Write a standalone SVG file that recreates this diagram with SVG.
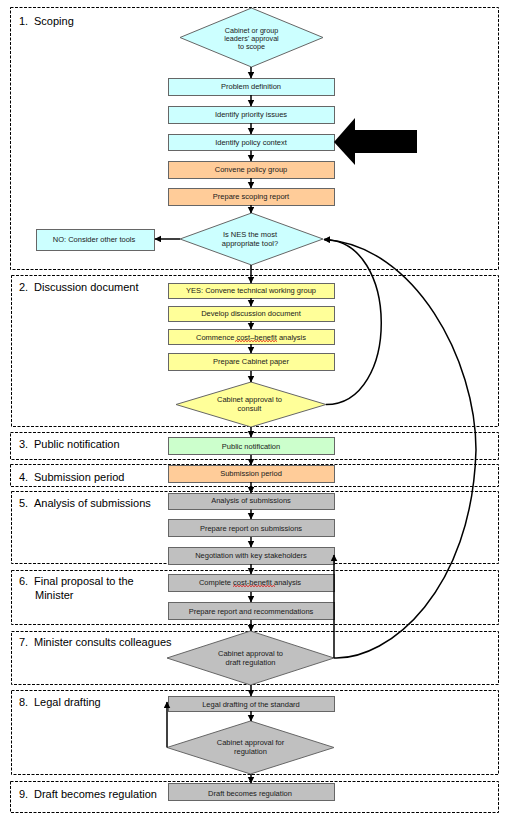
<svg xmlns="http://www.w3.org/2000/svg" width="510" height="816" viewBox="0 0 510 816">
<defs>
<style>
.sec{fill:none;stroke:#000;stroke-width:1;stroke-dasharray:3 1.5}
.lbl{font-family:"Liberation Sans",Arial,sans-serif;font-size:11px;fill:#000}
.t{font-family:"Liberation Sans",Arial,sans-serif;font-size:7.5px;fill:#1a1a1a;text-anchor:middle}
.nd{stroke:#666;stroke-width:1}
.cy{fill:#CCFFFF}
.or{fill:#FFCC99}
.ye{fill:#FFFF99}
.gr{fill:#CCFFCC}
.gy{fill:#C0C0C0}
.c{fill:none;stroke:#000;stroke-width:1.5}
.sq{fill:none;stroke:#e00000;stroke-width:0.8}
</style>
<marker id="ah" markerUnits="userSpaceOnUse" markerWidth="7" markerHeight="7" refX="6" refY="3.25" orient="auto">
<path d="M0,0 L6.5,3.25 L0,6.5 z" fill="#000"/>
</marker>
</defs>
<rect width="510" height="816" fill="#fff"/>

<g id="sections">
<g id="sec1"><rect class="sec" x="10.5" y="7.5" width="488" height="262"/><text class="lbl" x="19" y="24.5">1.</text><text class="lbl" x="34" y="24.5">Scoping</text></g>
<g id="sec2"><rect class="sec" x="11.5" y="275.5" width="487" height="151"/><text class="lbl" x="19" y="291">2.</text><text class="lbl" x="34" y="291">Discussion document</text></g>
<g id="sec3"><rect class="sec" x="10.5" y="432.5" width="488" height="27"/><text class="lbl" x="19" y="448">3.</text><text class="lbl" x="34" y="448">Public notification</text></g>
<g id="sec4"><rect class="sec" x="10.5" y="464.5" width="488" height="22"/><text class="lbl" x="19" y="480.5">4.</text><text class="lbl" x="34" y="480.5">Submission period</text></g>
<g id="sec5"><rect class="sec" x="11.5" y="491.5" width="487" height="72"/><text class="lbl" x="19" y="507">5.</text><text class="lbl" x="34" y="507">Analysis of submissions</text></g>
<g id="sec6"><rect class="sec" x="11.5" y="570.5" width="487" height="54"/><text class="lbl" x="19" y="585">6.</text><text class="lbl" x="34" y="585">Final proposal to the</text><text class="lbl" x="35" y="599">Minister</text></g>
<g id="sec7"><rect class="sec" x="11.5" y="631.5" width="487" height="53"/><text class="lbl" x="19" y="646">7.</text><text class="lbl" x="34" y="646">Minister consults colleagues</text></g>
<g id="sec8"><rect class="sec" x="11.5" y="690.5" width="487" height="84"/><text class="lbl" x="19" y="705.5">8.</text><text class="lbl" x="34" y="705.5">Legal drafting</text></g>
<g id="sec9"><rect class="sec" x="10.5" y="781.5" width="488" height="31"/><text class="lbl" x="19" y="798">9.</text><text class="lbl" x="34" y="798">Draft becomes regulation</text></g>
</g>

<g id="nodes">
<g id="n-approval-scope"><polygon class="nd cy" points="251.5,8 323,37.5 251.5,67 180,37.5"/><text class="t" x="251.5" y="32.6" style="font-size:7.2px">Cabinet or group</text><text class="t" x="251.5" y="40.6" style="font-size:7.2px">leaders’ approval</text><text class="t" x="251.5" y="49.3" style="font-size:7.2px">to scope</text></g>
<g id="n-problem"><rect class="nd cy" x="168.5" y="78.5" width="166" height="17"/><text class="t" x="251" y="89">Problem definition</text></g>
<g id="n-priority"><rect class="nd cy" x="168.5" y="106.5" width="166" height="17"/><text class="t" x="251" y="117">Identify priority issues</text></g>
<g id="n-context"><rect class="nd cy" x="168.5" y="134.5" width="166" height="16"/><text class="t" x="251" y="144.8">Identify policy context</text></g>
<g id="n-convene"><rect class="nd or" x="168.5" y="161.5" width="166" height="17"/><text class="t" x="251" y="172">Convene policy group</text></g>
<g id="n-scoping-report"><rect class="nd or" x="168.5" y="188.5" width="166" height="17"/><text class="t" x="251" y="199">Prepare scoping report</text></g>
<g id="n-nes"><polygon class="nd cy" points="251.5,213 323,239 251.5,265 180,239"/><text class="t" x="250" y="237">Is NES the most</text><text class="t" x="250" y="246">appropriate tool?</text></g>
<g id="n-no"><rect class="nd cy" x="36.5" y="229.5" width="118" height="21"/><text class="t" x="94" y="242">NO: Consider other tools</text></g>
<g id="n-yes"><rect class="nd ye" x="168.5" y="283.5" width="166" height="15"/><text class="t" x="251" y="293.3">YES: Convene technical working group</text></g>
<g id="n-develop"><rect class="nd ye" x="168.5" y="306.5" width="166" height="15"/><text class="t" x="251" y="316.2">Develop discussion document</text></g>
<g id="n-commence"><rect class="nd ye" x="168.5" y="329.5" width="166" height="15"/><text class="t" x="251" y="340">Commence cost–benefit analysis</text><path class="sq" d="M235,341.6 l1.5,-1.1 l1.5,1.1 l1.5,-1.1 l1.5,1.1 l1.5,-1.1 l1.5,1.1 l1.5,-1.1 l1.5,1.1 l1.5,-1.1 l1.5,1.1 l1.5,-1.1 l1.5,1.1 l1.5,-1.1 l1.5,1.1 l1.5,-1.1 l1.5,1.1 l1.5,-1.1 l1.5,1.1 l1.5,-1.1 l1.5,1.1 l1.5,-1.1 l1.5,1.1 l1.5,-1.1 l1.5,1.1 l1.5,-1.1 l1.5,1.1 l1.5,-1.1 l1.5,1.1"/></g>
<g id="n-cabinet-paper"><rect class="nd ye" x="168.5" y="353.5" width="166" height="17"/><text class="t" x="251" y="363.8">Prepare Cabinet paper</text></g>
<g id="n-consult"><polygon class="nd ye" points="251,382 326,404.5 251,427 176,404.5"/><text class="t" x="249.5" y="402">Cabinet approval to</text><text class="t" x="249.5" y="410.5">consult</text></g>
<g id="n-public"><rect class="nd gr" x="168.5" y="437.5" width="166" height="17"/><text class="t" x="251" y="449.3">Public notification</text></g>
<g id="n-submission"><rect class="nd or" x="168.5" y="465.5" width="166" height="17"/><text class="t" x="251" y="476">Submission period</text></g>
<g id="n-analysis"><rect class="nd gy" x="168.5" y="493.5" width="166" height="16"/><text class="t" x="251" y="503">Analysis of submissions</text></g>
<g id="n-report-sub"><rect class="nd gy" x="168.5" y="519.5" width="166" height="17"/><text class="t" x="251" y="531">Prepare report on submissions</text></g>
<g id="n-negotiation"><rect class="nd gy" x="168.5" y="547.5" width="166" height="17"/><text class="t" x="251" y="558.3">Negotiation with key stakeholders</text></g>
<g id="n-complete"><rect class="nd gy" x="168.5" y="574.5" width="166" height="17"/><text class="t" x="250" y="585.3">Complete cost-benefit analysis</text><path class="sq" d="M233,586.6 l1.5,-1.1 l1.5,1.1 l1.5,-1.1 l1.5,1.1 l1.5,-1.1 l1.5,1.1 l1.5,-1.1 l1.5,1.1 l1.5,-1.1 l1.5,1.1 l1.5,-1.1 l1.5,1.1 l1.5,-1.1 l1.5,1.1 l1.5,-1.1 l1.5,1.1 l1.5,-1.1 l1.5,1.1 l1.5,-1.1 l1.5,1.1 l1.5,-1.1 l1.5,1.1 l1.5,-1.1 l1.5,1.1 l1.5,-1.1 l1.5,1.1 l1.5,-1.1 l1.5,1.1"/></g>
<g id="n-recommend"><rect class="nd gy" x="168.5" y="602.5" width="166" height="17"/><text class="t" x="251" y="614.3">Prepare report and recommendations</text></g>
<g id="n-draft-approval"><polygon class="nd gy" points="250.5,631 334,658 250.5,685 167,658"/><text class="t" x="250.5" y="656">Cabinet approval to</text><text class="t" x="250.5" y="665.3">draft regulation</text></g>
<g id="n-legal"><rect class="nd gy" x="168.5" y="696.5" width="166" height="15"/><text class="t" x="251" y="706.6">Legal drafting of the standard</text></g>
<g id="n-reg-approval"><polygon class="nd gy" points="250.5,721 334,747.5 250.5,774 167,747.5"/><text class="t" x="250.5" y="745.3">Cabinet approval for</text><text class="t" x="250.5" y="753.8">regulation</text></g>
<g id="n-draft"><rect class="nd gy" x="168.5" y="783.5" width="166" height="17"/><text class="t" x="250" y="796">Draft becomes regulation</text></g>
<g id="pointer"><polygon points="334,142 355,118 355,130 417,130 417,153 355,153 355,165" fill="#000"/></g>
</g>

<g id="connectors">
<line class="c" x1="251" y1="67" x2="251" y2="78" marker-end="url(#ah)"/>
<line class="c" x1="251" y1="95" x2="251" y2="106" marker-end="url(#ah)"/>
<line class="c" x1="251" y1="123" x2="251" y2="134" marker-end="url(#ah)"/>
<line class="c" x1="251" y1="150.5" x2="251" y2="161" marker-end="url(#ah)"/>
<line class="c" x1="251" y1="178" x2="251" y2="188" marker-end="url(#ah)"/>
<line class="c" x1="251" y1="205" x2="251" y2="213" marker-end="url(#ah)"/>
<line class="c" x1="180" y1="239" x2="155" y2="239" marker-end="url(#ah)"/>
<line class="c" x1="251" y1="265" x2="251" y2="283" marker-end="url(#ah)"/>
<line class="c" x1="251" y1="298" x2="251" y2="306" marker-end="url(#ah)"/>
<line class="c" x1="251" y1="321" x2="251" y2="329" marker-end="url(#ah)"/>
<line class="c" x1="251" y1="344" x2="251" y2="353" marker-end="url(#ah)"/>
<line class="c" x1="251" y1="371" x2="251" y2="382" marker-end="url(#ah)"/>
<line class="c" x1="251" y1="427" x2="251" y2="437" marker-end="url(#ah)"/>
<line class="c" x1="251" y1="455" x2="251" y2="465" marker-end="url(#ah)"/>
<line class="c" x1="251" y1="482" x2="251" y2="493" marker-end="url(#ah)"/>
<line class="c" x1="251" y1="509.5" x2="251" y2="519" marker-end="url(#ah)"/>
<line class="c" x1="251" y1="537" x2="251" y2="547" marker-end="url(#ah)"/>
<line class="c" x1="251" y1="564" x2="251" y2="574" marker-end="url(#ah)"/>
<line class="c" x1="251" y1="592" x2="251" y2="602" marker-end="url(#ah)"/>
<line class="c" x1="251" y1="620" x2="251" y2="631" marker-end="url(#ah)"/>
<line class="c" x1="251" y1="685" x2="251" y2="696" marker-end="url(#ah)"/>
<line class="c" x1="251" y1="711" x2="251" y2="721" marker-end="url(#ah)"/>
<line class="c" x1="251" y1="774" x2="251" y2="783" marker-end="url(#ah)"/>
<path class="c" d="M326,404.5 C400,404.5 400,240 324,239.5" marker-end="url(#ah)"/>
<path class="c" d="M334,658 C390,660 472,590 476,450 C476,360 415,245 324,239.5" marker-end="url(#ah)"/>
<line class="c" x1="334" y1="658" x2="334" y2="555" marker-end="url(#ah)"/>
<line class="c" x1="167" y1="747.5" x2="167" y2="702" marker-end="url(#ah)"/>
</g>
</svg>
